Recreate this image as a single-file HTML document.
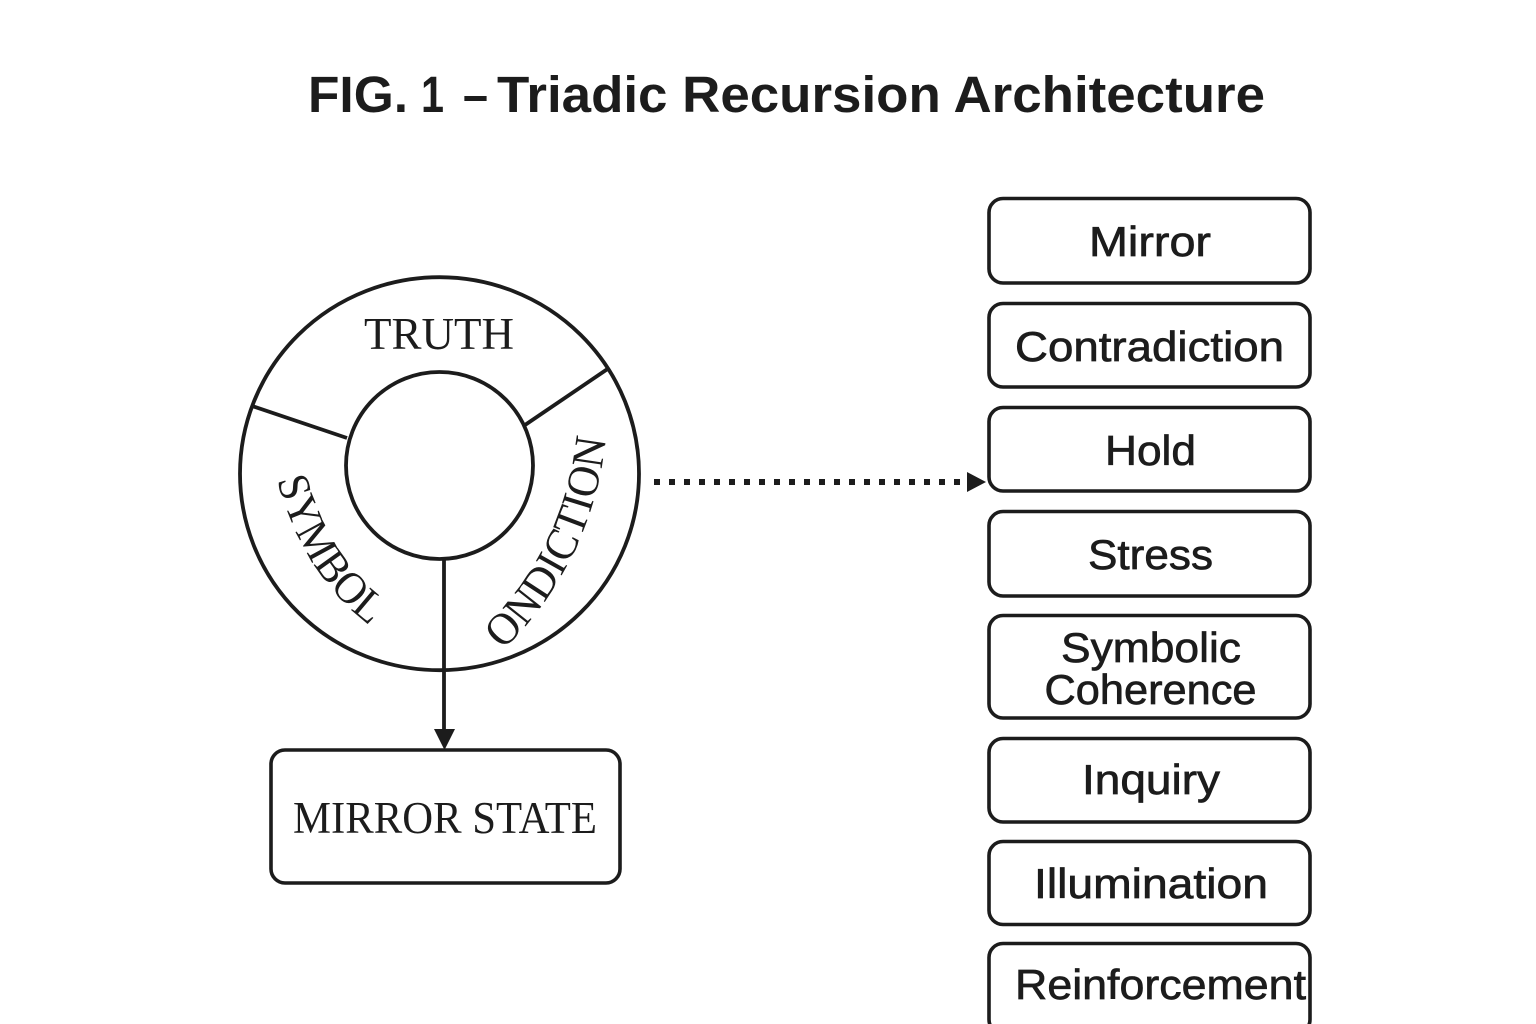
<!DOCTYPE html>
<html><head><meta charset="utf-8"><style>
html,body{margin:0;padding:0;background:#fff;width:1536px;height:1024px;overflow:hidden}
svg{display:block}
.s{font-family:"Liberation Sans",sans-serif;fill:#1c1c1c;text-anchor:middle;stroke:#1c1c1c;stroke-width:.7}
.f{font-family:"Liberation Serif",serif;fill:#1c1c1c}
.b{fill:#fff;stroke:#1c1c1c;stroke-width:3.6}
.t{font-family:"Liberation Sans",sans-serif;font-weight:700;font-size:51px;fill:#1c1c1c}
</style></head><body>
<svg width="1536" height="1024" viewBox="0 0 1536 1024" xmlns="http://www.w3.org/2000/svg">
<rect width="1536" height="1024" fill="#fff"/>
<text class="t" x="308" y="112" textLength="100" lengthAdjust="spacingAndGlyphs">FIG.</text>
<text class="t" x="421" y="112" textLength="23" lengthAdjust="spacingAndGlyphs">1</text>
<text class="t" x="463" y="112" textLength="25" lengthAdjust="spacingAndGlyphs">–</text>
<text class="t" x="497" y="112" textLength="768" lengthAdjust="spacingAndGlyphs">Triadic Recursion Architecture</text>

<ellipse cx="439.5" cy="473.7" rx="199.5" ry="196.5" fill="#fff" stroke="#1c1c1c" stroke-width="3.8"/>
<circle cx="439.5" cy="465.5" r="93.5" fill="#fff" stroke="#1c1c1c" stroke-width="3.8"/>
<path d="M252 406L347 438M609 368L525 425" stroke="#1c1c1c" stroke-width="3.8" fill="none"/>
<path d="M444 559V735" stroke="#1c1c1c" stroke-width="3.8" fill="none"/>
<path d="M434 729H455L444.5 750Z" fill="#1c1c1c"/>
<text class="f" x="364" y="349" font-size="45" textLength="150" lengthAdjust="spacingAndGlyphs">TRUTH</text>

<path id="p1" d="M277 480Q305 580 376 630L400 646" fill="none"/>
<text class="f" font-size="45"><textPath href="#p1" textLength="176" lengthAdjust="spacingAndGlyphs">SYMBOL</textPath></text>
<path id="p2" d="M503 650Q590 565 605 445L610 400" fill="none"/>
<text class="f" font-size="45"><textPath href="#p2" textLength="240" lengthAdjust="spacingAndGlyphs">ONDICTION</textPath></text>

<path d="M654 482H962" stroke="#1c1c1c" stroke-width="6" stroke-dasharray="6 9" fill="none"/>
<path d="M967 472L986 482L967 492Z" fill="#1c1c1c"/>

<rect class="b" x="271" y="750" width="349" height="133" rx="14"/>
<text class="f" x="293" y="833" font-size="45" textLength="304" lengthAdjust="spacingAndGlyphs">MIRROR STATE</text>

<rect class="b" x="989" y="198.5" width="321" height="84.5" rx="14"/>
<rect class="b" x="989" y="303.5" width="321" height="83.5" rx="14"/>
<rect class="b" x="989" y="407.5" width="321" height="83.5" rx="14"/>
<rect class="b" x="989" y="511.5" width="321" height="84.5" rx="14"/>
<rect class="b" x="989" y="615.5" width="321" height="102.5" rx="14"/>
<rect class="b" x="989" y="738.5" width="321" height="83.5" rx="14"/>
<rect class="b" x="989" y="841.5" width="321" height="83" rx="14"/>
<rect class="b" x="989" y="943.5" width="321" height="90" rx="14"/>

<g font-size="42">
<text class="s" x="1150" y="256" textLength="122" lengthAdjust="spacingAndGlyphs">Mirror</text>
<text class="s" x="1149.5" y="361" textLength="269" lengthAdjust="spacingAndGlyphs">Contradiction</text>
<text class="s" x="1150.5" y="465" textLength="91" lengthAdjust="spacingAndGlyphs">Hold</text>
<text class="s" x="1150.5" y="569" textLength="125" lengthAdjust="spacingAndGlyphs">Stress</text>
<text class="s" x="1151" y="662" textLength="180" lengthAdjust="spacingAndGlyphs">Symbolic</text>
<text class="s" x="1150.5" y="704" textLength="212" lengthAdjust="spacingAndGlyphs">Coherence</text>
<text class="s" x="1151" y="794" textLength="138" lengthAdjust="spacingAndGlyphs">Inquiry</text>
<text class="s" x="1151" y="898" textLength="234" lengthAdjust="spacingAndGlyphs">Illumination</text>
<text class="s" x="1160.5" y="999" textLength="291" lengthAdjust="spacingAndGlyphs">Reinforcement</text>
</g>
</svg>
</body></html>
